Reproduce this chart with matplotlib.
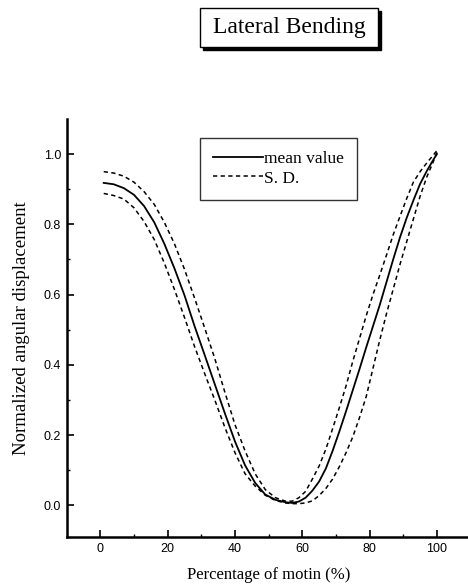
#!/usr/bin/env python3
import matplotlib
matplotlib.use("Agg")
import matplotlib.pyplot as plt
from matplotlib.patches import Rectangle
from matplotlib.lines import Line2D

# percentage of motion (shared grid for the three curves)
motion_pct = [1, 4, 7, 10, 13, 16, 19, 22, 25, 28, 31, 34, 37, 40, 43, 46, 49,
              52, 55, 57, 59, 61, 63, 65, 67, 69, 71, 73, 75, 77, 79, 81, 83,
              85, 87, 89, 91, 93, 95, 97, 99, 100]

mean_value = [0.918, 0.914, 0.903, 0.884, 0.852, 0.806, 0.745, 0.675, 0.598,
              0.510, 0.428, 0.345, 0.262, 0.182, 0.114, 0.064, 0.031, 0.016,
              0.009, 0.007, 0.011, 0.022, 0.042, 0.068, 0.105, 0.155, 0.210,
              0.268, 0.328, 0.388, 0.450, 0.510, 0.570, 0.635, 0.700, 0.762,
              0.818, 0.868, 0.915, 0.952, 0.985, 1.000]

sd_upper = [0.950, 0.946, 0.937, 0.920, 0.893, 0.857, 0.806, 0.745, 0.672,
            0.590, 0.505, 0.418, 0.322, 0.230, 0.155, 0.090, 0.045, 0.022,
            0.012, 0.012, 0.022, 0.040, 0.075, 0.112, 0.160, 0.218, 0.278,
            0.340, 0.410, 0.475, 0.540, 0.600, 0.655, 0.712, 0.770, 0.822,
            0.873, 0.920, 0.950, 0.975, 0.998, 1.010]

sd_lower = [0.888, 0.882, 0.872, 0.847, 0.808, 0.757, 0.690, 0.615, 0.535,
            0.452, 0.375, 0.300, 0.222, 0.150, 0.090, 0.055, 0.029, 0.014,
            0.007, 0.005, 0.005, 0.007, 0.013, 0.028, 0.048, 0.075, 0.110,
            0.150, 0.195, 0.250, 0.310, 0.390, 0.470, 0.545, 0.615, 0.685,
            0.750, 0.815, 0.880, 0.935, 0.980, 1.005]

x_ticks = [0, 20, 40, 60, 80, 100]
y_ticks = [0.0, 0.2, 0.4, 0.6, 0.8, 1.0]

serif = "Liberation Serif"
sans = "Liberation Sans"

fig = plt.figure(figsize=(4.68, 5.88), dpi=100)
ax = fig.add_axes([0.1425, 0.0867, 0.863, 0.711])

dash = (0, (2.8, 2.2))
ax.plot(motion_pct, mean_value, color="black", lw=1.3)
ax.plot(motion_pct, sd_upper, color="black", lw=1.1, linestyle=dash)
ax.plot(motion_pct, sd_lower, color="black", lw=1.1, linestyle=dash)

ax.set_xlim(-10, 110)
ax.set_ylim(-0.09, 1.1)
ax.set_xticks(x_ticks)
ax.set_yticks(y_ticks)
ax.set_xticks([10, 30, 50, 70, 90, 110], minor=True)
ax.set_yticks([0.1, 0.3, 0.5, 0.7, 0.9], minor=True)
ax.set_yticklabels([f"{v:.1f}" for v in y_ticks])

for side in ("top", "right"):
    ax.spines[side].set_visible(False)
for side in ("left", "bottom"):
    ax.spines[side].set_linewidth(1.8)

ax.tick_params(which="major", direction="in", length=5, width=1.2, pad=4)
ax.tick_params(which="minor", direction="in", length=2.5, width=1.0)
for lab in ax.get_xticklabels() + ax.get_yticklabels():
    lab.set_fontfamily(sans)
    lab.set_fontsize(9)

ax.set_xlabel("Percentage of motin (%)", fontfamily=serif, fontsize=12, labelpad=9)
ax.set_ylabel("Normalized angular displacement", fontfamily=serif, fontsize=13.5, labelpad=10)

handles = [Line2D([], [], color="black", lw=1.3),
           Line2D([], [], color="black", lw=1.1, linestyle=dash)]
leg = ax.legend(handles, ["mean value", "S. D."], loc="upper left",
                bbox_to_anchor=(0.33, 0.955), borderaxespad=0.0,
                frameon=True, fancybox=False,
                handlelength=2.9, handletextpad=0.05, borderpad=0.75,
                labelspacing=0.2, prop={"family": serif, "size": 12.5})
leg.get_frame().set_edgecolor("black")
leg.get_frame().set_linewidth(1.0)

# title box with drop shadow
bx, by, bw, bh = 200 / 468, 1 - 47 / 588, 178 / 468, 39 / 588
fig.patches.append(Rectangle((bx + 3 / 468, by - 3 / 588), bw, bh,
                             transform=fig.transFigure, facecolor="black",
                             edgecolor="black", zorder=1))
fig.patches.append(Rectangle((bx, by), bw, bh, transform=fig.transFigure,
                             facecolor="white", edgecolor="black", lw=1.0, zorder=2))
fig.text(bx + bw / 2, by + bh / 2, "Lateral Bending", ha="center", va="center",
         fontfamily=serif, fontsize=17, zorder=3)

fig.savefig("out.png", dpi=100)
